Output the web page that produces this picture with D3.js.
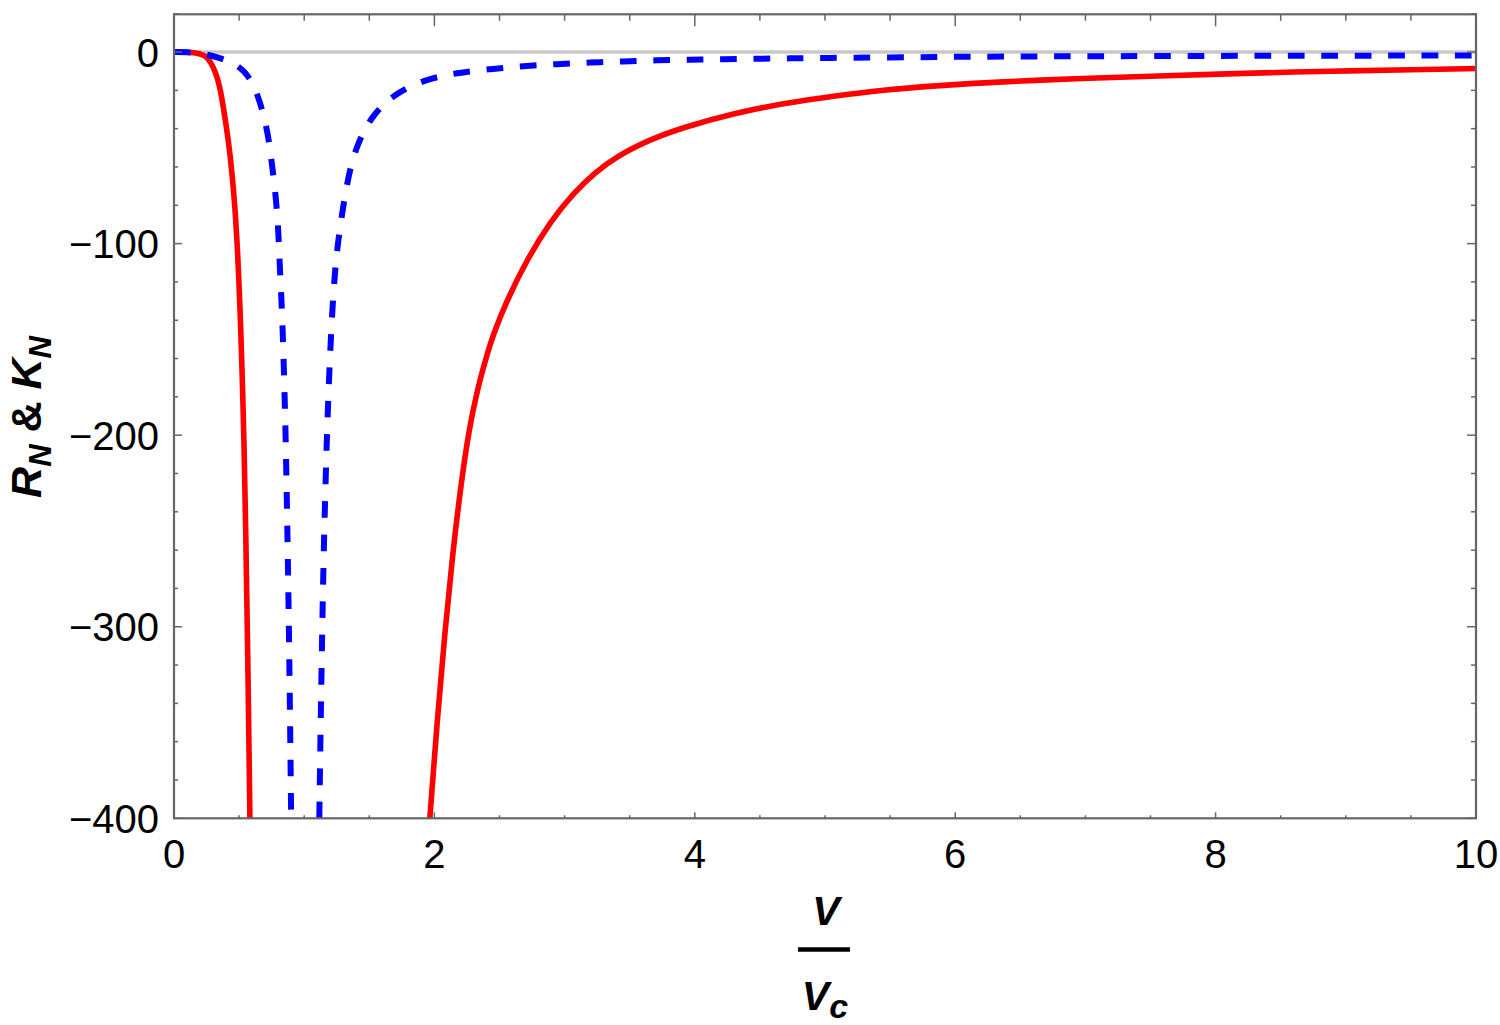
<!DOCTYPE html>
<html>
<head>
<meta charset="utf-8">
<script src="https://cdn.jsdelivr.net/npm/d3@7"></script>
<style>
  html, body { margin: 0; padding: 0; background: #ffffff; }
  svg { display: block; }
</style>
</head>
<body>
<script>
// ---------- data ----------
const redLeftV  = [0, 0.1, 0.15, 0.2, 0.25, 0.28, 0.32, 0.35, 0.379, 0.418, 0.448, 0.469, 0.484, 0.497, 0.507, 0.515, 0.523, 0.530, 0.537, 0.551, 0.566, 0.583];
const redLeftR  = [0, -0.1, -0.3, -0.9, -2.4, -5, -10.5, -17.5, -28.5, -46, -64.5, -82, -98.5, -117, -134, -150, -167, -184, -202, -249, -311, -400];

const redRightV = [1.965, 2.02, 2.08, 2.14, 2.20, 2.26, 2.33, 2.40, 2.449, 2.554, 2.709, 2.889, 3.068, 3.235, 3.401, 3.657, 3.913, 4.297, 4.682, 5.066, 5.45, 5.834, 6.347, 7, 7.5, 8, 8.65, 9, 9.5, 10];
const redRightR = [-400, -350, -303, -262, -228, -199, -176, -159, -148, -130, -108.6, -88.6, -73.6, -62.8, -54.4, -45.6, -39.3, -32, -26.8, -23, -19.8, -17.7, -15.5, -13.7, -12.6, -11.6, -10.3, -9.9, -9.2, -8.6];

const blueLeftV = [0, 0.1, 0.2, 0.307, 0.42, 0.48, 0.538, 0.6, 0.658, 0.722, 0.753, 0.784, 0.802, 0.812, 0.825, 0.835, 0.843, 0.850, 0.857, 0.870, 0.885, 0.900];
const blueLeftR = [0, 0, -0.6, -2.2, -4.6, -6.8, -9.9, -15.5, -25.1, -41.9, -59, -76.4, -93.8, -111.2, -128.6, -146, -163.4, -180.8, -199, -245, -310, -400];

const blueRightV = [1.116, 1.124, 1.132, 1.141, 1.151, 1.170, 1.185, 1.200, 1.212, 1.226, 1.240, 1.258, 1.293, 1.335, 1.398, 1.511, 1.693, 1.929, 2.172, 2.428, 2.684, 2.94, 3.196, 3.45, 3.709, 3.965, 4.218, 4.477, 4.733, 4.987, 5.5, 6.0, 6.5, 7, 8, 9, 10];
const blueRightR = [-400, -362, -327, -292, -257, -210, -180, -156, -140, -124, -112, -100, -83.4, -65.9, -49.4, -33.8, -21.6, -14.3, -10.8, -8.9, -7.3, -6.3, -5.4, -4.9, -4.3, -4.0, -3.7, -3.5, -3.3, -3.1, -2.8, -2.5, -2.3, -2.2, -2.0, -1.9, -1.8];

const xMajorTicks = [0, 2, 4, 6, 8, 10];
const xTickLabels = ["0", "2", "4", "6", "8", "10"];
const xMinorTicks = [0.5, 1, 1.5, 2.5, 3, 3.5, 4.5, 5, 5.5, 6.5, 7, 7.5, 8.5, 9, 9.5];
const yMajorTicks = [0, -100, -200, -300, -400];
const yTickLabels = ["0", "\u2212100", "\u2212200", "\u2212300", "\u2212400"];
const yMinorTicks = [20, -20, -40, -60, -80, -120, -140, -160, -180, -220, -240, -260, -280, -320, -340, -360, -380];

// ---------- layout ----------
const W = 1500, H = 1025;
const L = 174, R = 1476, T = 14.3, B = 818.3;

const x = d3.scaleLinear().domain([0, 10]).range([L, R]);
const y = d3.scaleLinear().domain([-400, 19.7]).range([B, T]);

const svg = d3.select("body").append("svg").attr("width", W).attr("height", H);

svg.append("defs").append("clipPath").attr("id", "plotclip")
  .append("rect").attr("x", L).attr("y", T).attr("width", R - L).attr("height", B - T);

const zip = (a, b) => a.map((v, i) => [v, b[i]]);
const line = d3.line().x(d => x(d[0])).y(d => y(d[1])).curve(d3.curveBasis);

const plot = svg.append("g").attr("clip-path", "url(#plotclip)");

// zero axis line
plot.append("line")
  .attr("x1", x(0)).attr("x2", x(10)).attr("y1", y(0)).attr("y2", y(0))
  .attr("stroke", "#c8c8c8").attr("stroke-width", 3.6);

// red curves
[[redLeftV, redLeftR], [redRightV, redRightR]].forEach(([v, r]) => {
  plot.append("path").datum(zip(v, r)).attr("d", line)
    .attr("fill", "none").attr("stroke", "#ff0000").attr("stroke-width", 5.6)
    .attr("stroke-linejoin", "round");
});
// blue dashed curves
[[blueLeftV, blueLeftR], [blueRightV, blueRightR]].forEach(([v, r]) => {
  plot.append("path").datum(zip(v, r)).attr("d", line)
    .attr("fill", "none").attr("stroke", "#0000ff").attr("stroke-width", 6)
    .attr("stroke-dasharray", "16.7,16.7");
});

// frame
const frameColor = "#666666";
svg.append("rect").attr("x", L).attr("y", T).attr("width", R - L).attr("height", B - T)
  .attr("fill", "none").attr("stroke", frameColor).attr("stroke-width", 2.2);

// ticks
const tk = svg.append("g").attr("stroke", frameColor).attr("stroke-width", 1.5);
xMajorTicks.forEach(v => {
  tk.append("line").attr("x1", x(v)).attr("x2", x(v)).attr("y1", B).attr("y2", B - 6);
  tk.append("line").attr("x1", x(v)).attr("x2", x(v)).attr("y1", T).attr("y2", T + 12);
});
xMinorTicks.forEach(v => {
  tk.append("line").attr("x1", x(v)).attr("x2", x(v)).attr("y1", B).attr("y2", B - 3);
  tk.append("line").attr("x1", x(v)).attr("x2", x(v)).attr("y1", T).attr("y2", T + 6.5);
});
yMajorTicks.forEach(v => {
  tk.append("line").attr("y1", y(v)).attr("y2", y(v)).attr("x1", L).attr("x2", L + 8);
  tk.append("line").attr("y1", y(v)).attr("y2", y(v)).attr("x1", R).attr("x2", R - 9);
});
yMinorTicks.forEach(v => {
  tk.append("line").attr("y1", y(v)).attr("y2", y(v)).attr("x1", L).attr("x2", L + 4);
  tk.append("line").attr("y1", y(v)).attr("y2", y(v)).attr("x1", R).attr("x2", R - 5);
});

// tick labels
const font = "'Liberation Sans', Arial, sans-serif";
svg.append("g").selectAll("text").data(xMajorTicks).join("text")
  .attr("x", d => x(d)).attr("y", 868)
  .attr("text-anchor", "middle")
  .attr("font-family", font).attr("font-size", 40).attr("fill", "#000")
  .text((d, i) => xTickLabels[i]);

svg.append("g").selectAll("text").data(yMajorTicks).join("text")
  .attr("x", 159).attr("y", d => y(d) + 14.5)
  .attr("text-anchor", "end")
  .attr("font-family", font).attr("font-size", 40).attr("fill", "#000")
  .text((d, i) => yTickLabels[i]);

// y axis title: R_N & K_N
const yt = svg.append("text")
  .attr("transform", "translate(41,417) rotate(-90)")
  .attr("text-anchor", "middle")
  .attr("font-family", font).attr("font-size", 43).attr("font-weight", "bold").attr("fill", "#000");
yt.append("tspan").attr("font-style", "italic").text("R");
yt.append("tspan").attr("font-style", "italic").attr("font-size", 31).attr("dy", 10).text("N");
yt.append("tspan").attr("dy", -10).text(" & ");
yt.append("tspan").attr("font-style", "italic").text("K");
yt.append("tspan").attr("font-style", "italic").attr("font-size", 31).attr("dy", 10).text("N");

// x axis title: V / V_c
svg.append("text")
  .attr("x", 826).attr("y", 925).attr("text-anchor", "middle")
  .attr("font-family", font).attr("font-size", 41).attr("font-weight", "bold").attr("font-style", "italic")
  .attr("fill", "#000").text("V");
svg.append("line").attr("x1", 798).attr("x2", 850).attr("y1", 949.5).attr("y2", 949.5)
  .attr("stroke", "#000").attr("stroke-width", 4.6);
const xt = svg.append("text")
  .attr("x", 825).attr("y", 1010).attr("text-anchor", "middle")
  .attr("font-family", font).attr("font-size", 41).attr("font-weight", "bold").attr("font-style", "italic")
  .attr("fill", "#000");
xt.append("tspan").text("V");
xt.append("tspan").attr("font-size", 34).attr("dy", 8).text("c");
</script>
</body>
</html>
